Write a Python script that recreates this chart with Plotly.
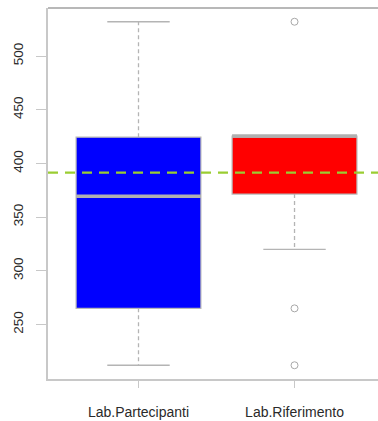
import plotly.graph_objects as go

categories = ["Lab.Partecipanti", "Lab.Riferimento"]
q1 = [265, 371.5]
median = [369.5, 425.5]
q3 = [424.5, 425.5]
lower_whisker = [212, 320]
upper_whisker = [532, 425.5]
outliers = [[], [532, 265, 212]]
box_colors = ["#0000ff", "#ff0000"]
ref_value = 391.5
y_ticks = [250, 300, 350, 400, 450, 500]

xpos = [1, 2]
box_w = 0.8
cap_half = 0.2
grey = "#b4b4b4"

fig = go.Figure()

for i, c in enumerate(categories):
    x = xpos[i]
    # whiskers (dashed)
    for a, b in ((q3[i], upper_whisker[i]), (q1[i], lower_whisker[i])):
        if a != b:
            fig.add_trace(go.Scatter(x=[x, x], y=[a, b], mode="lines",
                                     line=dict(color=grey, width=1.3, dash="4px,3px"),
                                     hoverinfo="skip", showlegend=False))
            fig.add_trace(go.Scatter(x=[x - cap_half, x + cap_half], y=[b, b], mode="lines",
                                     line=dict(color=grey, width=1.3),
                                     hoverinfo="skip", showlegend=False))
    fig.add_trace(go.Box(x=[x], q1=[q1[i]], median=[median[i]], q3=[q3[i]],
                         lowerfence=[q1[i]], upperfence=[q3[i]],
                         width=box_w, fillcolor=box_colors[i],
                         line=dict(color="#b8b8b8", width=1.2),
                         hoverinfo="skip", showlegend=False, boxpoints=False))
    fig.add_trace(go.Scatter(x=[x - box_w / 2, x + box_w / 2], y=[median[i], median[i]],
                             mode="lines", line=dict(color="#b0b0b0", width=3.5),
                             hoverinfo="skip", showlegend=False))
    if outliers[i]:
        fig.add_trace(go.Scatter(x=[x] * len(outliers[i]), y=outliers[i], mode="markers",
                                 marker=dict(symbol="circle-open", size=7,
                                             color="#a8a8a8", line=dict(width=1)),
                                 hoverinfo="skip", showlegend=False))

fig.add_shape(type="line", xref="paper", yref="y", x0=0, x1=1, y0=ref_value, y1=ref_value,
              line=dict(color="#9acd32", width=2.2, dash="10px,7px"))
# top frame line
fig.add_shape(type="line", xref="paper", yref="paper", x0=0, x1=1, y0=1, y1=1,
              line=dict(color="#a0a0a0", width=1.5))

fig.update_layout(
    width=378, height=421,
    margin=dict(l=48, r=0, t=8, b=42),
    paper_bgcolor="white", plot_bgcolor="white",
    font=dict(family="Liberation Sans, Arial, sans-serif", size=13, color="#2a2a2a"),
    xaxis=dict(range=[0.42, 2.535], tickvals=xpos, ticktext=categories,
               showgrid=False, zeroline=False, showline=True, linecolor="#c8c8c8",
               linewidth=1.5, ticks="outside", ticklen=7, tickcolor="#c8c8c8",
               tickwidth=1.3, ticklabelstandoff=12,
               tickfont=dict(size=14, color="#2a2a2a")),
    yaxis=dict(range=[199.2, 544.8], tickvals=y_ticks, showgrid=False, zeroline=False,
               showline=True, linecolor="#c8c8c8", linewidth=1.5, ticks="outside",
               ticklen=10, tickcolor="#c8c8c8", tickwidth=1.3, tickangle=-90,
               ticklabelstandoff=8,
               tickfont=dict(size=13.5, color="#2a2a2a")),
)

fig.write_html("out.html")
